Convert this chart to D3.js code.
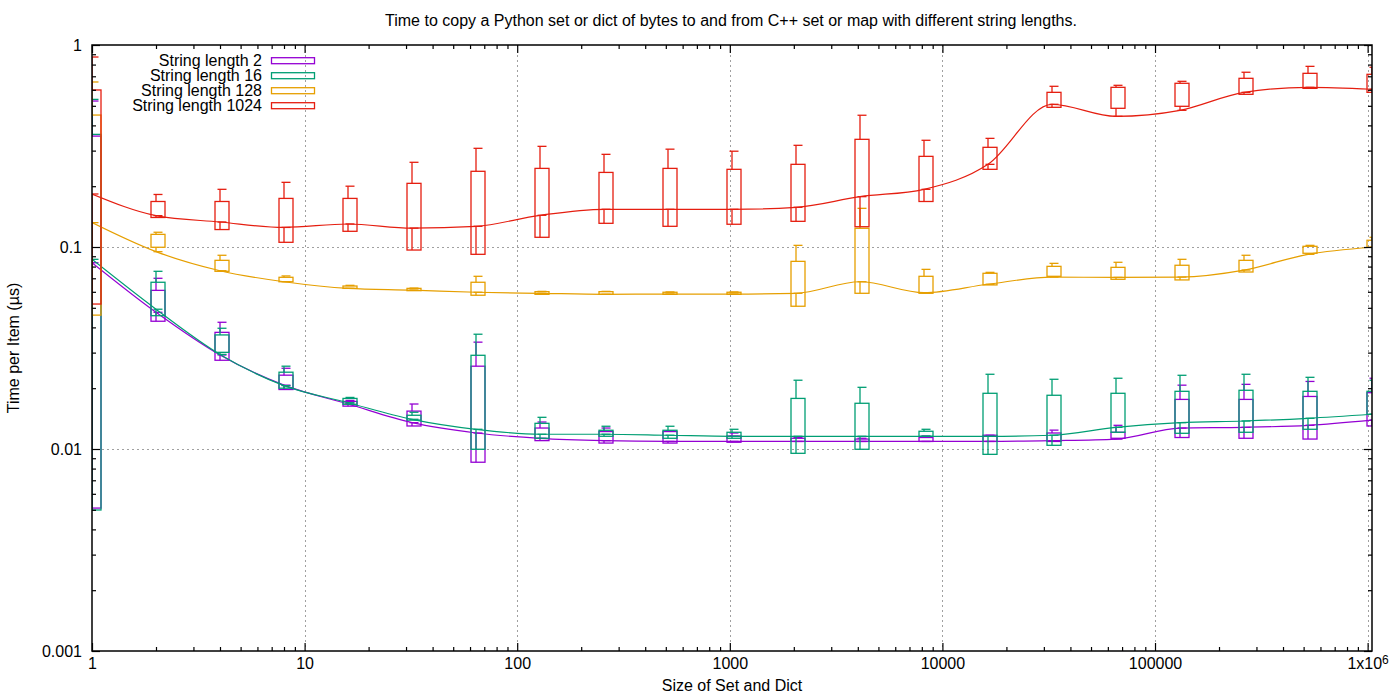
<!DOCTYPE html>
<html>
<head>
<meta charset="utf-8">
<script src="https://cdn.jsdelivr.net/npm/d3@7"></script>
<style>
  body { margin: 0; background: #fff; }
  text { font-family: "Liberation Sans", Arial, sans-serif; fill: #000; }
</style>
</head>
<body>
<svg id="chart" width="1400" height="700"></svg>
<script>
// container sizes (2^0 .. 2^20)
let sizes = [1, 2, 4, 8, 16, 32, 64, 128, 256, 512, 1024, 2048, 4096, 8192,
    16384, 32768, 65536, 131072, 262144, 524288, 1048576];

let seriesNames = ['String length 2', 'String length 16', 'String length 128', 'String length 1024'];
let seriesColors = ['#9400d3', '#009e73', '#e69f00', '#e51e10'];

// string length 2
let len2BoxLow = [0.0051, 0.0429, 0.0275, 0.0197, 0.0163, 0.0130, 0.0086, 0.0110, 0.0107, 0.0107, 0.0108,
    0.0109, 0.0109, 0.0109, 0.0109, 0.0109, 0.0113, 0.0114, 0.0113, 0.0112, 0.0130];
let len2BoxHigh = [0.354, 0.0610, 0.0378, 0.0232, 0.0172, 0.0154, 0.0257, 0.0127, 0.0122, 0.0122, 0.0116,
    0.0113, 0.0112, 0.0114, 0.0117, 0.0120, 0.0121, 0.0176, 0.0176, 0.0182, 0.0190];
let len2Median = [0.0836, 0.0475, 0.0292, 0.0207, 0.0167, 0.0135, 0.0120, 0.0113, 0.0110, 0.0109, 0.0109,
    0.0109, 0.0109, 0.0109, 0.0109, 0.0110, 0.0112, 0.0127, 0.0128, 0.0131, 0.0139];
let len2Max = [0.528, 0.0700, 0.0424, 0.0251, 0.0174, 0.0167, 0.0338, 0.0136, 0.0127, 0.0123, 0.0120,
    0.0114, 0.0113, 0.0116, 0.0117, 0.0124, 0.0131, 0.0207, 0.0209, 0.0216, 0.0224];

// string length 16
let len16BoxLow = [0.00499, 0.0457, 0.0301, 0.0200, 0.01665, 0.0139, 0.00997, 0.0113, 0.01156, 0.0113, 0.0113,
    0.00952, 0.00997, 0.01156, 0.00941, 0.01043, 0.0121, 0.01196, 0.0121, 0.01252, 0.01486];
let len16BoxHigh = [0.361, 0.0669, 0.0367, 0.0240, 0.0178, 0.01469, 0.0291, 0.0134, 0.01238, 0.01238, 0.0121,
    0.0178, 0.01684, 0.01224, 0.01887, 0.01845, 0.01887, 0.0193, 0.01953, 0.0193, 0.0193];
let len16Median = [0.0869, 0.0492, 0.0294, 0.0206, 0.01695, 0.01403, 0.01252, 0.01183, 0.01183, 0.0117, 0.01156,
    0.01156, 0.01156, 0.01156, 0.01156, 0.0117, 0.0128, 0.0135, 0.01376, 0.01419, 0.01486];
let len16Max = [0.538, 0.0758, 0.0396, 0.0257, 0.0180, 0.0152, 0.0370, 0.01435, 0.01296, 0.01296, 0.01252,
    0.0219, 0.0202, 0.01252, 0.02344, 0.02214, 0.0224, 0.02317, 0.02344, 0.02264, 0.0219];

// string length 128
let len128BoxLow = [0.046, 0.0997, 0.0758, 0.0673, 0.0624, 0.0608, 0.0577, 0.0583, 0.0583, 0.0583, 0.0583,
    0.0509, 0.0590, 0.0590, 0.0649, 0.0716, 0.0692, 0.0687, 0.0752, 0.0931, 0.0997];
let len128BoxHigh = [0.450, 0.1155, 0.0859, 0.0708, 0.0641, 0.0624, 0.0669, 0.0601, 0.0601, 0.0597, 0.0597,
    0.0849, 0.1238, 0.0716, 0.0741, 0.0802, 0.0793, 0.0812, 0.0859, 0.1008, 0.108];
let len128Median = [0.132, 0.0948, 0.0763, 0.0673, 0.0624, 0.0612, 0.0597, 0.0590, 0.0583, 0.0585, 0.0585,
    0.0590, 0.0673, 0.0594, 0.0654, 0.0710, 0.0707, 0.0710, 0.0769, 0.0920, 0.0997];
let len128Max = [0.656, 0.1183, 0.0910, 0.0719, 0.0646, 0.0626, 0.0716, 0.0603, 0.0603, 0.0599, 0.0599,
    0.1019, 0.1554, 0.0775, 0.0749, 0.0830, 0.0840, 0.0869, 0.0910, 0.1019, 0.1117];

// string length 1024
let len1024BoxLow = [0.0522, 0.140, 0.122, 0.1055, 0.1196, 0.0966, 0.092, 0.1117, 0.131, 0.1266, 0.1296,
    0.134, 0.126, 0.168, 0.2424, 0.4915, 0.486, 0.4972, 0.570, 0.610, 0.583];
let len1024BoxHigh = [0.599, 0.168, 0.168, 0.174, 0.174, 0.2066, 0.237, 0.245, 0.234, 0.245, 0.2424,
    0.2566, 0.3412, 0.281, 0.3115, 0.583, 0.6173, 0.6463, 0.684, 0.724, 0.716];
let len1024Median = [0.183, 0.143, 0.133, 0.125, 0.130, 0.124, 0.1266, 0.1435, 0.1537, 0.1537, 0.1537,
    0.1572, 0.1775, 0.193, 0.2566, 0.5086, 0.4436, 0.475, 0.583, 0.617, 0.604];
let len1024Max = [0.872, 0.182, 0.193, 0.209, 0.200, 0.2626, 0.308, 0.315, 0.2876, 0.305, 0.298,
    0.3187, 0.449, 0.3375, 0.345, 0.6245, 0.6316, 0.661, 0.733, 0.784, 0.776];

let xTicks = [1, 10, 100, 1000, 10000, 100000, 1000000];
let xTickLabels = ['1', '10', '100', '1000', '10000', '100000', '1x10^6'];
let yTicks = [0.001, 0.01, 0.1, 1];
let yTickLabels = ['0.001', '0.01', '0.1', '1'];

let title = 'Time to copy a Python set or dict of bytes to and from C++ set or map with different string lengths.';
let xTitle = 'Size of Set and Dict';
let yTitle = 'Time per Item (µs)';

let seriesData = [
    [len2BoxLow, len2BoxHigh, len2Median, len2Max],
    [len16BoxLow, len16BoxHigh, len16Median, len16Max],
    [len128BoxLow, len128BoxHigh, len128Median, len128Max],
    [len1024BoxLow, len1024BoxHigh, len1024Median, len1024Max],
].map((cols, i) => ({
    name: seriesNames[i],
    color: seriesColors[i],
    points: sizes.map((s, j) => ({
        size: s, boxLow: cols[0][j], boxHigh: cols[1][j], median: cols[2][j], max: cols[3][j]
    }))
}));

let plotLeft = 92, plotRight = 1372, plotTop = 45, plotBottom = 651;
let svg = d3.select('#chart');

let x = d3.scaleLog().domain([1, 1048576]).range([plotLeft, plotRight]);
let y = d3.scaleLog().domain([0.001, 1]).range([plotBottom, plotTop]);

let minorX = [];
for (let e = 0; e < 7; e++) for (let m = 2; m <= 9; m++) {
    let v = m * Math.pow(10, e);
    if (v <= 1048576) minorX.push(v);
}
let minorY = [];
for (let e = -3; e < 0; e++) for (let m = 2; m <= 9; m++) minorY.push(m * Math.pow(10, e));

// grid
let grid = svg.append('g')
    .attr('stroke', '#a0a0a0')
    .attr('stroke-width', 1)
    .attr('stroke-dasharray', '2,3');
grid.selectAll('.gx').data(xTicks.slice(1)).enter().append('line')
    .attr('x1', d => Math.round(x(d)) + 0.5).attr('x2', d => Math.round(x(d)) + 0.5)
    .attr('y1', plotTop).attr('y2', plotBottom);
grid.selectAll('.gy').data(yTicks.slice(1, 3)).enter().append('line')
    .attr('y1', d => Math.round(y(d)) + 0.5).attr('y2', d => Math.round(y(d)) + 0.5)
    .attr('x1', plotLeft).attr('x2', plotRight);

svg.append('clipPath').attr('id', 'plotclip')
    .append('rect').attr('x', plotLeft).attr('y', plotTop)
    .attr('width', plotRight - plotLeft).attr('height', plotBottom - plotTop);

let plot = svg.append('g').attr('clip-path', 'url(#plotclip)');

let line = d3.line()
    .x(d => x(d.size))
    .y(d => y(d.median))
    .curve(d3.curveMonotoneX);

seriesData.forEach(s => {
    let g = plot.append('g')
        .attr('stroke', s.color)
        .attr('stroke-width', 1.3)
        .attr('fill', 'none');
    let c = g.selectAll('.candle').data(s.points).enter().append('g');
    c.append('rect')
        .attr('x', d => x(d.size) - 5)
        .attr('width', 14)
        .attr('y', d => y(d.boxHigh))
        .attr('height', d => y(d.boxLow) - y(d.boxHigh));
    // upper whisker
    c.append('line')
        .attr('x1', d => x(d.size)).attr('x2', d => x(d.size))
        .attr('y1', d => y(d.boxHigh)).attr('y2', d => y(d.max));
    c.append('line')
        .attr('x1', d => x(d.size) - 2.5).attr('x2', d => x(d.size) + 6.5)
        .attr('y1', d => y(d.max)).attr('y2', d => y(d.max));
    // lower whisker
    c.append('line')
        .attr('x1', d => x(d.size)).attr('x2', d => x(d.size))
        .attr('y1', d => y(d.boxLow)).attr('y2', d => y(d.median));
    c.append('line')
        .attr('x1', d => x(d.size) - 2.5).attr('x2', d => x(d.size) + 6.5)
        .attr('y1', d => y(d.median)).attr('y2', d => y(d.median));
    g.append('path').datum(s.points).attr('d', line).attr('stroke-width', 1.2);
});

// axes, ticks inward on all four sides
let fontSize = '16px';
let xAxis = svg.append('g').attr('transform', `translate(0,${plotBottom})`)
    .call(d3.axisBottom(x).tickValues(xTicks).tickSize(-8).tickSizeOuter(0).tickPadding(7)
        .tickFormat((d, i) => xTickLabels[i]));
xAxis.selectAll('text').style('font-size', fontSize).each(function (d, i) {
    let lab = xTickLabels[i];
    if (lab.indexOf('^') > 0) {
        let parts = lab.split('^');
        let t = d3.select(this).text(parts[0]);
        t.append('tspan').attr('dy', '-0.45em').style('font-size', '12px').text(parts[1]);
    }
});
svg.append('g').attr('transform', `translate(0,${plotBottom})`)
    .call(d3.axisBottom(x).tickValues(minorX).tickSize(-4).tickSizeOuter(0).tickFormat(''));
svg.append('g').attr('transform', `translate(0,${plotTop})`)
    .call(d3.axisTop(x).tickValues(xTicks).tickSize(-8).tickSizeOuter(0).tickFormat(''));
svg.append('g').attr('transform', `translate(0,${plotTop})`)
    .call(d3.axisTop(x).tickValues(minorX).tickSize(-4).tickSizeOuter(0).tickFormat(''));

svg.append('g').attr('transform', `translate(${plotLeft},0)`)
    .call(d3.axisLeft(y).tickValues(yTicks).tickSize(-8).tickSizeOuter(0).tickPadding(10)
        .tickFormat((d, i) => yTickLabels[i]))
    .selectAll('text').style('font-size', fontSize);
svg.append('g').attr('transform', `translate(${plotLeft},0)`)
    .call(d3.axisLeft(y).tickValues(minorY).tickSize(-4).tickSizeOuter(0).tickFormat(''));
svg.append('g').attr('transform', `translate(${plotRight},0)`)
    .call(d3.axisRight(y).tickValues(yTicks).tickSize(-8).tickSizeOuter(0).tickFormat(''));
svg.append('g').attr('transform', `translate(${plotRight},0)`)
    .call(d3.axisRight(y).tickValues(minorY).tickSize(-4).tickSizeOuter(0).tickFormat(''));

svg.selectAll('.domain').remove();
svg.selectAll('.tick line').attr('stroke', '#000').attr('stroke-width', 1.2);

svg.append('rect')
    .attr('x', plotLeft).attr('y', plotTop)
    .attr('width', plotRight - plotLeft).attr('height', plotBottom - plotTop)
    .attr('fill', 'none').attr('stroke', '#000').attr('stroke-width', 1.5);

// legend
let legend = svg.append('g').selectAll('g').data(seriesData).enter().append('g')
    .attr('transform', (d, i) => `translate(0,${60.7 + i * 15})`);
legend.append('text')
    .attr('x', 262).attr('y', 5.5)
    .attr('text-anchor', 'end')
    .style('font-size', fontSize)
    .text(d => d.name);
legend.append('rect')
    .attr('x', 271.5).attr('y', -3).attr('width', 43).attr('height', 6)
    .attr('fill', 'none').attr('stroke', d => d.color).attr('stroke-width', 1.3);

// titles
svg.append('text').attr('x', 731).attr('y', 26).attr('text-anchor', 'middle')
    .style('font-size', fontSize).text(title);
svg.append('text').attr('x', 732).attr('y', 691).attr('text-anchor', 'middle')
    .style('font-size', fontSize).text(xTitle);
svg.append('text').attr('transform', 'translate(19,348) rotate(-90)').attr('text-anchor', 'middle')
    .style('font-size', fontSize).text(yTitle);
</script>
</body>
</html>
